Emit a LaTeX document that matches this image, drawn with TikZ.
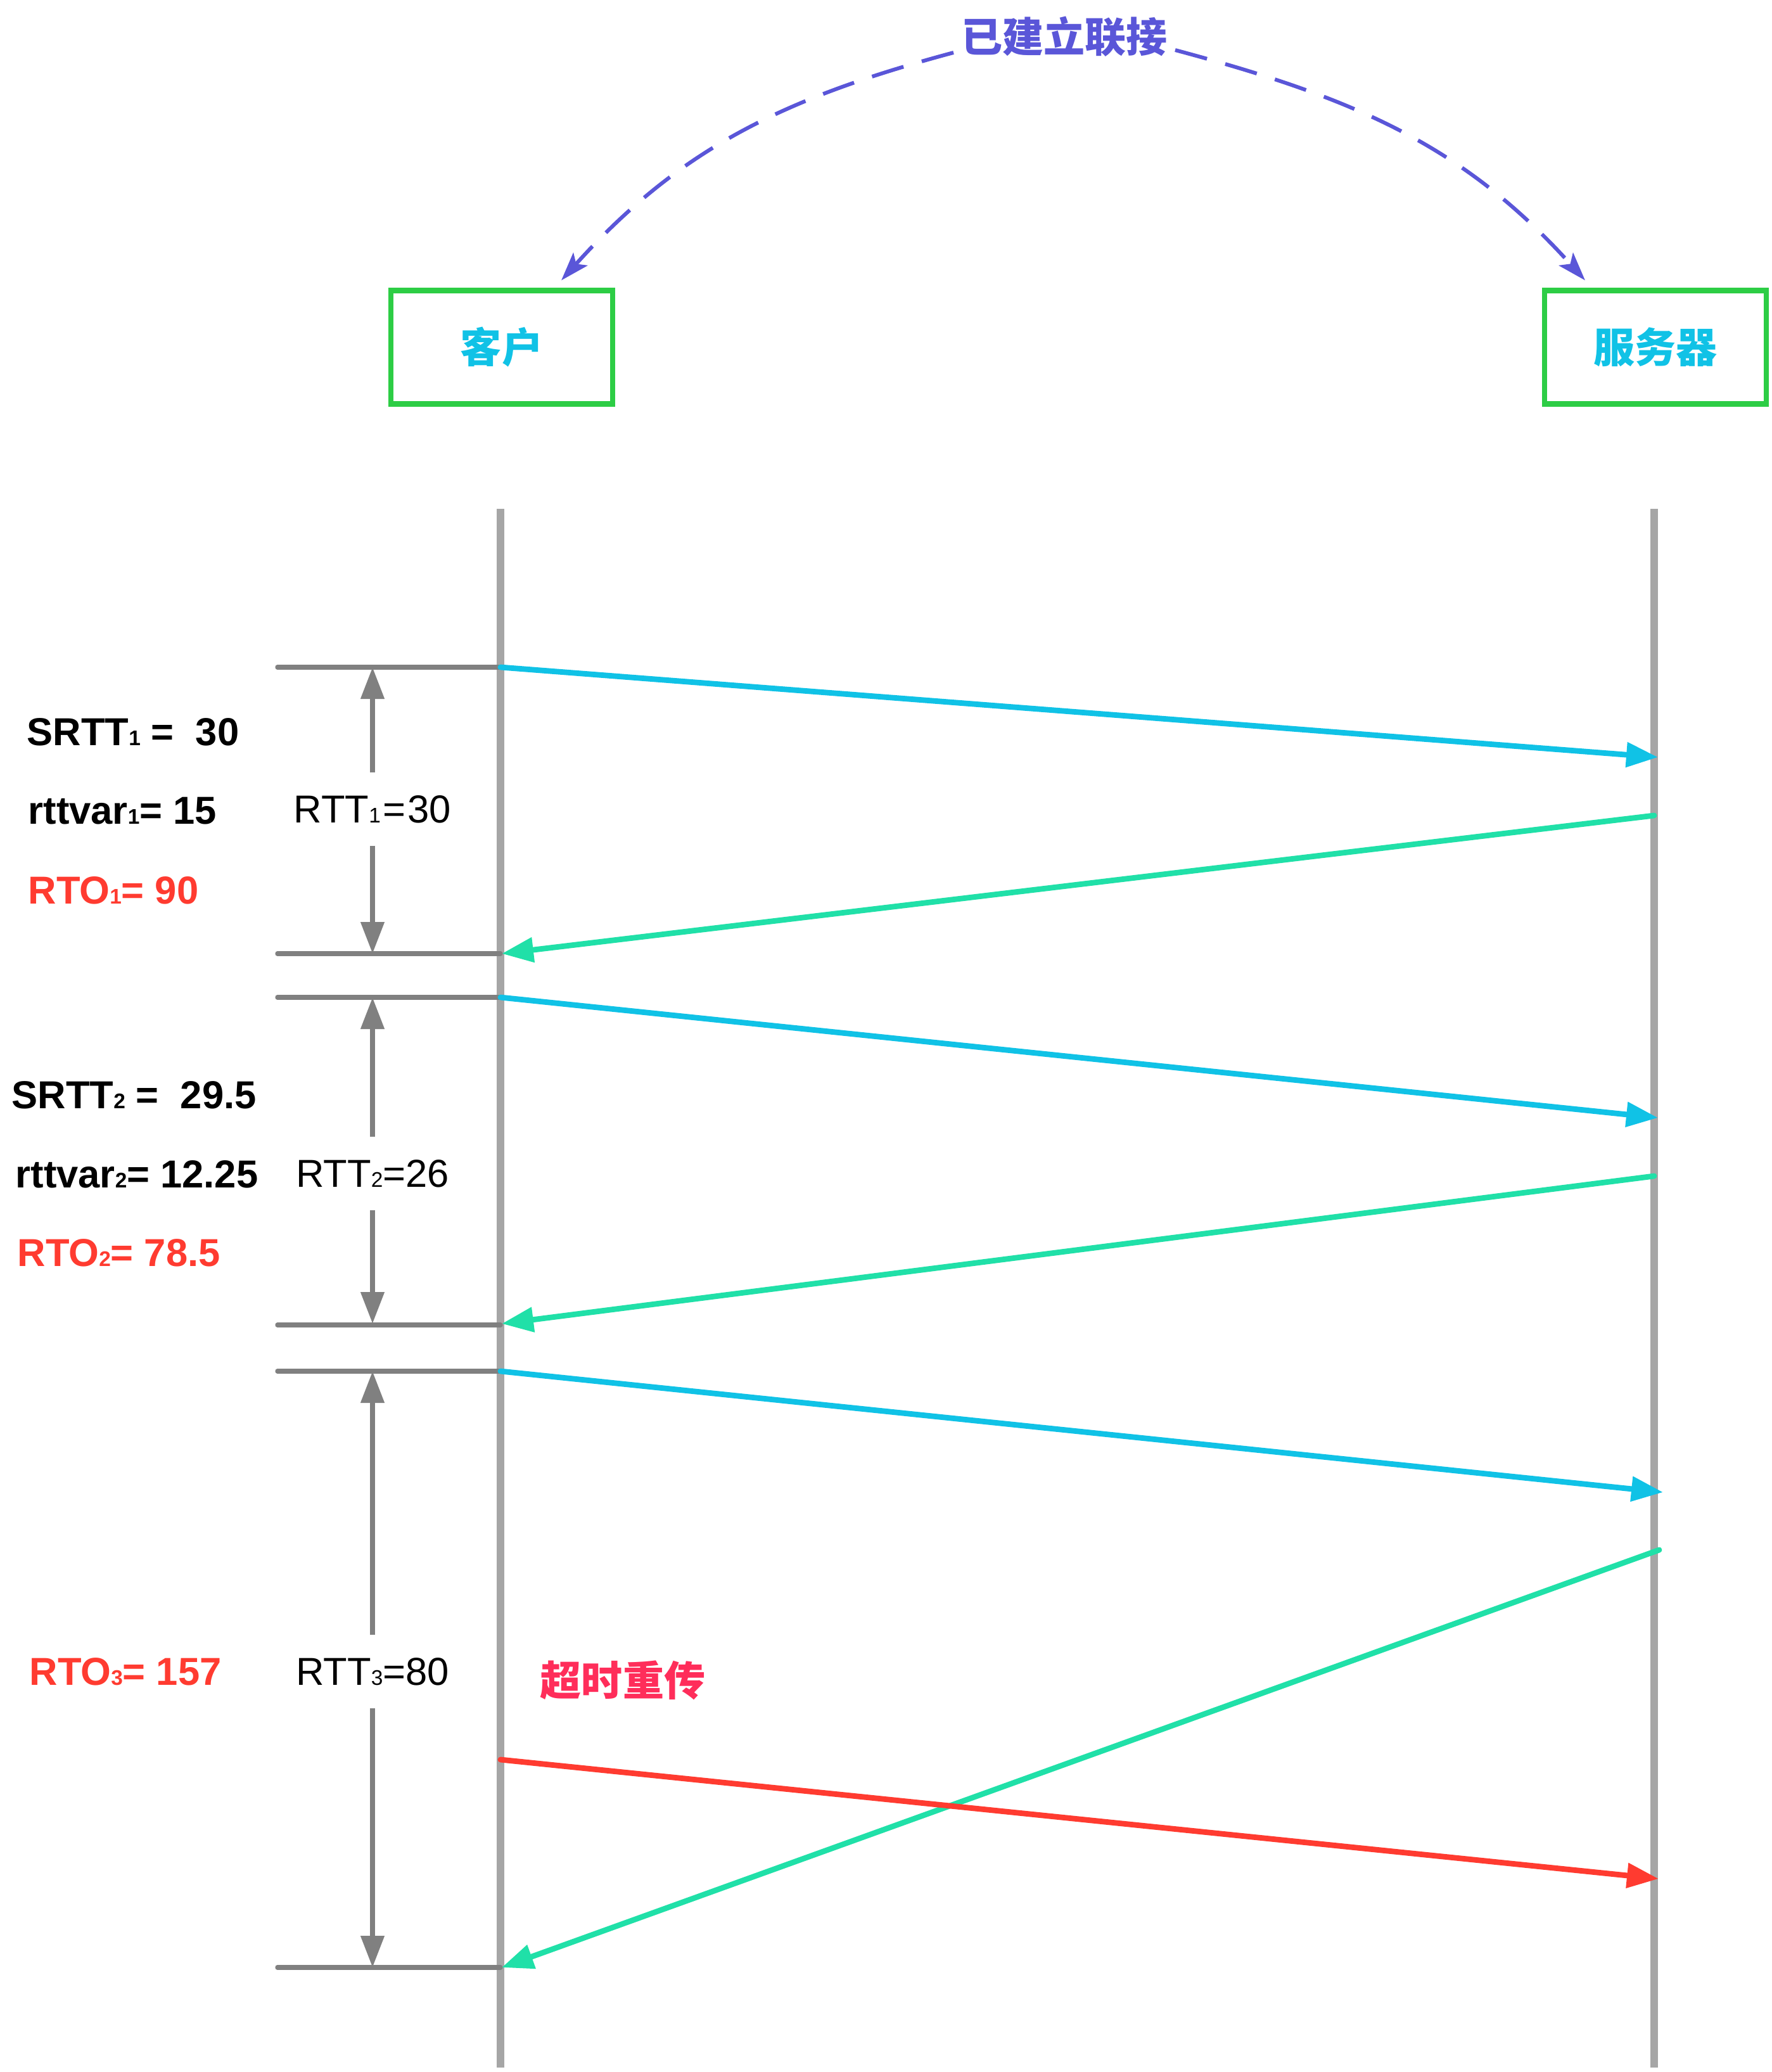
\documentclass[tikz,border=0pt]{standalone}
\usepackage{fontspec}
\setmainfont{Liberation Sans}
\newfontfamily\cjk{Noto Sans CJK SC}
\usepackage{xcolor}
\definecolor{LINKcolor}{HTML}{5A56D8}
\definecolor{BOXcolor}{HTML}{2DCD45}
\definecolor{HOSTcolor}{HTML}{10C2E6}
\definecolor{SENDcolor}{HTML}{10C2E6}
\definecolor{ACKcolor}{HTML}{20E0A8}
\definecolor{RTOcolor}{HTML}{FF3B30}
\definecolor{RETRYcolor}{HTML}{FF2D5A}
\definecolor{LIFEcolor}{HTML}{A6A6A6}
\definecolor{DIMcolor}{HTML}{808080}
\usetikzlibrary{math, arrows.meta}

\newcommand{\idx}[1]{{\fontsize{9.5pt}{9.5pt}\selectfont #1}}

\begin{document}
\begin{tikzpicture}
    \tikzset{%
        host/.style={draw=BOXcolor, line width=2.3pt, minimum width=3.5cm, minimum height=1.79cm, inner sep=0pt,
                text=HOSTcolor, font=\cjk\bfseries\fontsize{18.5pt}{18.5pt}\selectfont},
        lifeline/.style={LIFEcolor, line width=3.4pt},
        timemark/.style={DIMcolor, line width=2.1pt, line cap=round},
        rttspan/.style={DIMcolor, line width=2.2pt, -{Triangle[length=0.5cm, width=0.36cm]}},
        rttlabel/.style={minimum height=1.14cm, inner sep=0pt, font=\fontsize{17.5pt}{17.5pt}\selectfont},
        est/.style={anchor=west, inner sep=0pt, font=\bfseries\fontsize{17.5pt}{17.5pt}\selectfont},
        rto/.style={est, text=RTOcolor},
        send/.style={SENDcolor, line width=2.5pt, line cap=round, -{Triangle[length=0.5cm, width=0.38cm]}},
        ack/.style={send, ACKcolor},
        resend/.style={send, RTOcolor},
        link/.style={LINKcolor, line width=1.7pt, dash pattern=on 0.52cm off 0.3cm,
                -{Stealth[length=0.45cm, width=0.3cm, inset=0.1cm]}},
    }
    \tikzmath{%
        \xc=7.90;
        \xs=26.11;
        \xt=4.38;
    }

    \useasboundingbox (0, 0) rectangle (27.96, -32.70);

    \node [text=LINKcolor, font=\cjk\bfseries\fontsize{18.5pt}{18.5pt}\selectfont] (link) at (16.80, -0.58) {已建立联接};
    \node [host] (client) at (7.92, -5.48) {客户};
    \node [host] (server) at (26.13, -5.48) {服务器};

    \draw [link] ([yshift=-0.25cm]link.west) to[out=195, in=48] ([xshift=0.94cm, yshift=0.12cm]client.north);
    \draw [link] ([yshift=-0.21cm]link.east) to[out=-15, in=132] ([xshift=-1.11cm, yshift=0.12cm]server.north);

    \draw [lifeline] (\xc, -8.03) -- (\xc, -32.63);
    \draw [lifeline] (\xs, -8.03) -- (\xs, -32.63);

    \foreach \y in {-10.53, -15.05, -15.74, -20.91, -21.64, -31.05} {%
            \draw [timemark] (\xt, \y) -- (\xc, \y);
        };

    \coordinate (c1) at (\xc, -10.53);
    \coordinate (s1) at (26.17, -11.95);
    \coordinate (s2) at (\xs, -12.87);
    \coordinate (c2) at (7.92, -15.05);
    \coordinate (c3) at (\xc, -15.74);
    \coordinate (s3) at (26.17, -17.64);
    \coordinate (s4) at (\xs, -18.56);
    \coordinate (c4) at (7.92, -20.89);
    \coordinate (c5) at (\xc, -21.64);
    \coordinate (s5) at (26.25, -23.55);
    \coordinate (s6) at (26.19, -24.46);
    \coordinate (c6) at (7.92, -31.05);
    \coordinate (c7) at (\xc, -27.77);
    \coordinate (s7) at (26.18, -29.65);

    \draw [send] (c1) -- (s1);
    \draw [ack] (s2) -- (c2);
    \draw [send] (c3) -- (s3);
    \draw [ack] (s4) -- (c4);
    \draw [send] (c5) -- (s5);
    \draw [ack] (s6) -- (c6);
    \draw [resend] (c7) -- (s7);

    \node [rttlabel] (rtt1) at (5.88, -12.77) {RTT\idx{1}\kern1pt=\kern1pt30};
    \node [rttlabel] (rtt2) at (5.88, -18.52) {RTT\idx{2}=26};
    \node [rttlabel] (rtt3) at (5.88, -26.38) {RTT\idx{3}=80};

    \draw [rttspan] (rtt1.north) -- (rtt1.north |- c1);
    \draw [rttspan] (rtt1.south) -- (rtt1.south |- c2);
    \draw [rttspan] (rtt2.north) -- (rtt2.north |- c3);
    \draw [rttspan] (rtt2.south) -- (rtt2.south |- c4);
    \draw [rttspan] (rtt3.north) -- (rtt3.north |- c5);
    \draw [rttspan] (rtt3.south) -- (rtt3.south |- c6);

    \node [est] (srtt1) at (0.42, -11.55) {SRTT\idx{1} =\ \ 30};
    \node [est] (var1) at (0.44, -12.80) {rttvar\idx{1}= 15};
    \node [rto] (rto1) at (0.44, -14.05) {RTO\idx{1}= 90};
    \node [est] (srtt2) at (0.18, -17.28) {SRTT\idx{2} =\ \ 29.5};
    \node [est] (var2) at (0.24, -18.53) {rttvar\idx{2}= 12.25};
    \node [rto] (rto2) at (0.27, -19.77) {RTO\idx{2}= 78.5};
    \node [rto] (rto3) at (0.46, -26.38) {RTO\idx{3}= 157};

    \node [text=RETRYcolor, font=\cjk\bfseries\fontsize{18.5pt}{18.5pt}\selectfont] (retry) at (9.83, -26.52) {超时重传};
\end{tikzpicture}
\end{document}
